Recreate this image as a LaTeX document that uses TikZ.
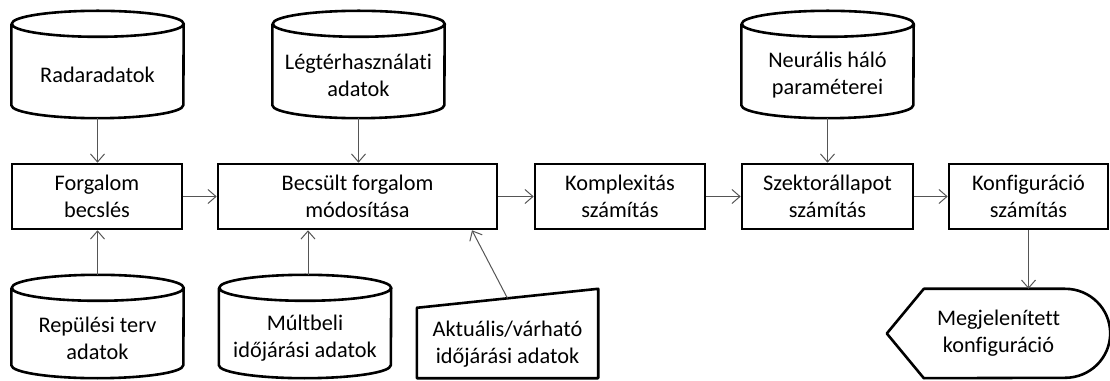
\documentclass[tikz,border=0pt]{standalone}
\usepackage{fontspec}
\setmainfont[Ligatures=NoCommon]{Carlito}
\usetikzlibrary{arrows.meta,calc}
\definecolor{arrgray}{RGB}{85,85,85}
\tikzset{
  procbox/.style={draw=black, line width=2.6pt, minimum height=65pt, align=center, inner sep=2pt,
    font=\fontsize{22.3}{27}\selectfont},
  cylnode/.style={minimum width=172pt, align=center, inner sep=2pt, font=\fontsize{22.3}{27}\selectfont},
  shapeline/.style={draw=black, line width=2.6pt, line join=round},
  arr/.style={draw=arrgray, line width=1pt, -{Straight Barb[length=8pt,width=14pt]}},
}
\newcommand\drawcyl[2]{%
  \draw[shapeline] ([yshift=#2]#1.north west) -- ([yshift=13pt]#1.south west)
    arc[start angle=180,end angle=360,x radius=86pt,y radius=13pt]
    -- ([yshift=#2]#1.north east)
    arc[start angle=0,end angle=360,x radius=86pt,y radius=13pt];}
\begin{document}
\begin{tikzpicture}[x=1pt,y=1pt]
\useasboundingbox (0,0) rectangle (1110,380);
% process boxes
\node[procbox, minimum width=170pt] (F) at (97,183.5) {Forgalom\\becslés};
\node[procbox, minimum width=279pt] (B) at (357.5,183.5) {Becsült forgalom\\módosítása};
\node[procbox, minimum width=170pt] (K) at (620,183.5) {Komplexitás\\számítás};
\node[procbox, minimum width=171pt] (S) at (827.5,183.5) {Szektorállapot\\számítás};
\node[procbox, minimum width=159pt] (C) at (1028.5,183.5) {Konfiguráció\\számítás};
% top cylinders
\node[cylnode, minimum height=86pt] (rad) at (97.5,305) {Radaradatok};
\node[cylnode, minimum height=86pt] (leg) at (358.5,305) {Légtérhasználati\\adatok};
\node[cylnode, minimum height=86pt] (neu) at (827.5,305) {Neurális háló\\paraméterei};
\drawcyl{rad}{8pt}
\drawcyl{leg}{8pt}
\drawcyl{neu}{8pt}
% bottom cylinders
\node[cylnode, minimum height=80pt] (rep) at (97.5,42) {Repülési terv\\adatok};
\node[cylnode, minimum height=80pt] (mult) at (305,42) {Múltbeli\\időjárási adatok};
\drawcyl{rep}{10pt}
\drawcyl{mult}{10pt}
% manual input
\node[cylnode, minimum width=181pt, minimum height=68pt] (akt) at (507.5,36) {Aktuális/várható\\időjárási adatok};
\draw[shapeline] (akt.south west) -- ([yshift=2pt]akt.north west) -- ([yshift=21pt]akt.north east) -- (akt.south east) -- cycle;
% display
\node[cylnode, minimum width=223pt, minimum height=89pt] (disp) at (998.5,46.5) {Megjelenített\\konfiguráció};
\draw[shapeline] (disp.west) -- ([xshift=37pt]disp.north west) -- ([xshift=-45pt]disp.north east)
  arc[start angle=90,end angle=-90,x radius=45pt,y radius=44.5pt]
  -- ([xshift=37pt]disp.south west) -- cycle;
% connectors
\draw[arr] (rad.south) -- (rad.south |- F.north);
\draw[arr] (leg.south) -- (leg.south |- B.north);
\draw[arr] (neu.south) -- (neu.south |- S.north);
\coordinate (reptop) at ([yshift=23pt]rep.north);
\draw[arr] (reptop) -- (reptop |- F.south);
\coordinate (multtop) at ([xshift=3pt,yshift=23pt]mult.north);
\draw[arr] (multtop) -- (multtop |- B.south);
\coordinate (akttop) at ([yshift=11.5pt]akt.north);
\draw[arr] (akttop) -- ([xshift=114.5pt]B.south);
\draw[arr] (F.east) -- (B.west);
\draw[arr] (B.east) -- (K.west);
\draw[arr] (K.east) -- (S.west);
\draw[arr] (S.east) -- (C.west);
\draw[arr] (C.south) -- (C.south |- disp.north);
\end{tikzpicture}
\end{document}
